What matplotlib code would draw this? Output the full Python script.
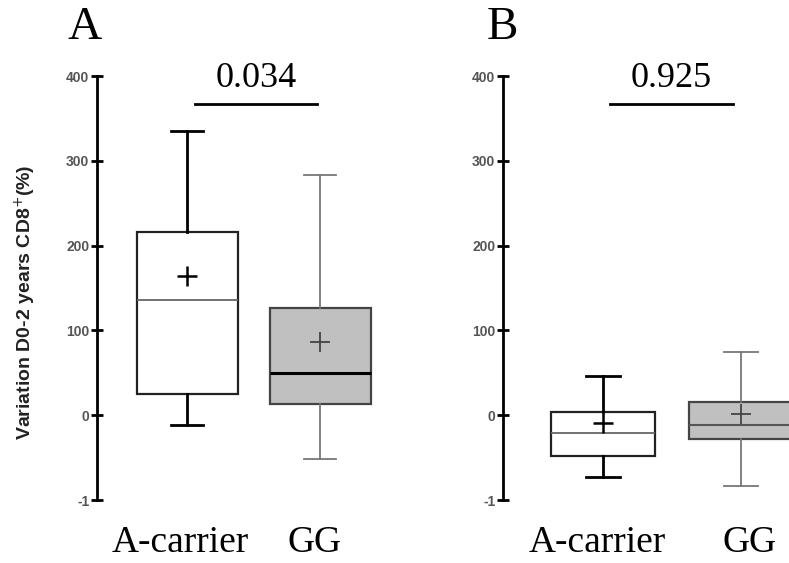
import matplotlib
matplotlib.use("Agg")
import matplotlib.pyplot as plt

groups = ["A-carrier", "GG"]
panels = ["A", "B"]
p_values = ["0.034", "0.925"]
ytick_values = [-100, 0, 100, 200, 300, 400]
ytick_labels = ["-1", "0", "100", "200", "300", "400"]

# box statistics (variation in %)
a_med = [136, 50]
a_q1 = [25, 13]
a_q3 = [216, 126]
a_lo = [-12, -52]
a_hi = [335, 283]
a_mean = [164, 86]

b_med = [-21, -12]
b_q1 = [-48, -28]
b_q3 = [4, 15]
b_lo = [-73, -83]
b_hi = [46, 74]
b_mean = [-9, 1]

serif = "Liberation Serif"
W, H = 789, 563

fig = plt.figure(figsize=(W / 100, H / 100), dpi=100)


def draw_panel(left_px, width_px, xlim, meds, q1s, q3s, los, his, means,
               letter, pval, line_x, label_x, letter_x):
    ax = fig.add_axes([left_px / W, (H - 500) / H, width_px / W, 424 / H])
    stats = []
    for i in range(2):
        stats.append(dict(med=meds[i], q1=q1s[i], q3=q3s[i], whislo=los[i],
                          whishi=his[i], mean=means[i], label=groups[i]))
    res = ax.bxp(stats, positions=[1, 2], widths=0.76, showmeans=True,
                 patch_artist=True, showfliers=False)
    fills = ["white", "#c0c0c0"]
    for i, box in enumerate(res["boxes"]):
        box.set_facecolor(fills[i])
        box.set_edgecolor("#222222" if i == 0 else "#444444")
        box.set_linewidth(1.6)
    wcol = ["black", "#777777"]
    wlw = [2.0, 1.3]
    for i in range(2):
        for ln in res["whiskers"][2 * i:2 * i + 2] + res["caps"][2 * i:2 * i + 2]:
            ln.set_color(wcol[i])
            ln.set_linewidth(wlw[i])
    res["medians"][0].set_color("#666666")
    res["medians"][0].set_linewidth(1.3)
    res["medians"][1].set_color("black" if letter == "A" else "#555555")
    res["medians"][1].set_linewidth(2.2 if letter == "A" else 1.5)
    for i, m in enumerate(res["means"]):
        m.set_marker("+")
        m.set_markersize(14)
        m.set_markeredgecolor("black" if i == 0 else "#444444")
        m.set_markeredgewidth(1.8 if i == 0 else 1.3)
    for c in res["caps"]:
        c.set_xdata([c.get_xdata().mean() - 0.12, c.get_xdata().mean() + 0.12])

    ax.set_xlim(*xlim)
    ax.set_ylim(-100, 400)
    for s in ["top", "right", "bottom"]:
        ax.spines[s].set_visible(False)
    ax.spines["left"].set_linewidth(2)
    ax.set_yticks(ytick_values)
    ax.set_yticklabels(ytick_labels, fontsize=10, fontweight="bold",
                       color="#555555", family="Liberation Sans")
    ax.tick_params(axis="y", direction="inout", length=9, width=2, pad=1)
    ax.set_xticks([])
    ax.patch.set_alpha(0)

    for i, g in enumerate(groups):
        ax.text(label_x[i], -150, g, ha="center", va="center",
                fontsize=27, family=serif, clip_on=False)
    ax.plot(line_x, [367, 367], color="black", lw=2, clip_on=False)
    ax.text(sum(line_x) / 2, 397, pval, ha="center", va="center",
            fontsize=26, family=serif, clip_on=False)
    ax.text(letter_x, 457, letter, ha="center", va="center",
            fontsize=34, family=serif, clip_on=False)
    return ax


draw_panel(97, 290, (0.323, 0.323 + 290 / 133), a_med, a_q1, a_q3, a_lo, a_hi,
           a_mean, "A", p_values[0], [1.06, 1.98], [0.95, 1.96], 0.23)
draw_panel(503, 286, (0.275, 0.275 + 286 / 138), b_med, b_q1, b_q3, b_lo, b_hi,
           b_mean, "B", p_values[1], [1.05, 1.94], [0.96, 2.06], 0.27)

fig.text(25 / W, 1 - 302 / H, "Variation D0-2 years CD8$^{+}$(%)", rotation=90,
         ha="center", va="center", fontsize=14, fontweight="bold",
         family="Liberation Sans", color="#222222")

fig.savefig("out.png", dpi=100, facecolor="white")
